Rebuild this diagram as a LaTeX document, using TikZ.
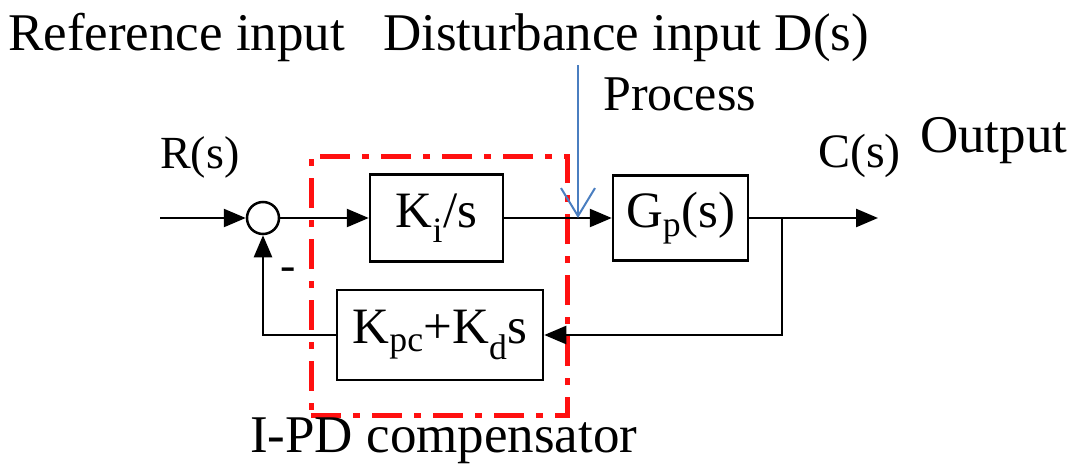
\documentclass[tikz,border=0pt]{standalone}
\usepackage{fontspec}
\setmainfont{Liberation Serif}[Ligatures=TeX]
\newfontfamily\timesf{Liberation Serif}
\usetikzlibrary{arrows.meta,positioning}
\definecolor{compred}{HTML}{FF1010}
\definecolor{distblue}{HTML}{4A7EC0}
\tikzset{blk/.style={draw=black,line width=2.5pt,inner sep=0pt,font=\timesf\fontsize{51}{55}\selectfont}}
\tikzset{sig/.style={-{Triangle[length=22pt,width=18pt]},line width=2.5pt}}
\tikzset{lbl/.style={inner sep=0pt,anchor=base west,font=\timesf\fontsize{53}{60}\selectfont}}

\begin{document}
\begin{tikzpicture}[x=1pt,y=-1pt]
\useasboundingbox (0,0) rectangle (1073,463);
% blocks
\node (sum) [circle,draw,line width=2.5pt,minimum size=32pt,inner sep=0pt] at (263,218) {};
\node (ki) [blk,minimum width=133pt,minimum height=87pt] at (436.5,218) {K\textsubscript{i}/s};
\node (gp) [blk,minimum width=135pt,minimum height=85pt] at (680.5,218) {G\textsubscript{p}(s)};
\node (fb) [blk,minimum width=206pt,minimum height=90pt] at (440,335) {K\textsubscript{pc}+K\textsubscript{d}s};
\node (comp) [draw=compred,line width=5pt,dash pattern=on 30pt off 12pt on 7pt off 12pt,
  minimum width=256pt,minimum height=259pt] at (439,285.5) {};
%
\coordinate (in) at (160,218);
\coordinate (out) at (878,218);
\coordinate (br) at (782,218);
\coordinate (dtop) at (578,65);
\coordinate (dpt) at (578,218);
%
\draw[sig] (in) -- (sum);
\draw[sig] (sum) -- (ki);
\draw[sig] (ki) -- (gp);
\draw[sig] (gp.east) -- (out);
\draw[sig] (br) |- (fb.east);
\draw[sig] (fb.west) -| (sum.south);
\draw[distblue,line width=2pt,-{Straight Barb[length=28pt,width=34pt]}] (dtop) -- (dpt);
% labels
\node (ref) [lbl] at (8,50) {Reference input};
\node (dist) [lbl] at (383,50) {Disturbance input D(s)};
\node (proc) [lbl,font=\timesf\fontsize{50}{56}\selectfont] at (603,110) {Process};
\node (outl) [lbl] at (920,152) {Output};
\node (rs) [lbl,font=\timesf\fontsize{46}{50}\selectfont] at (160,168) {R(s)};
\node (cs) [lbl,font=\timesf\fontsize{48}{52}\selectfont] at (818,167) {C(s)};
\node (minus) [lbl,font=\timesf\fontsize{46}{50}\selectfont] at (280,280) {-};
\node (ipd) [lbl] at (250,452) {I-PD compensator};
\end{tikzpicture}
\end{document}
